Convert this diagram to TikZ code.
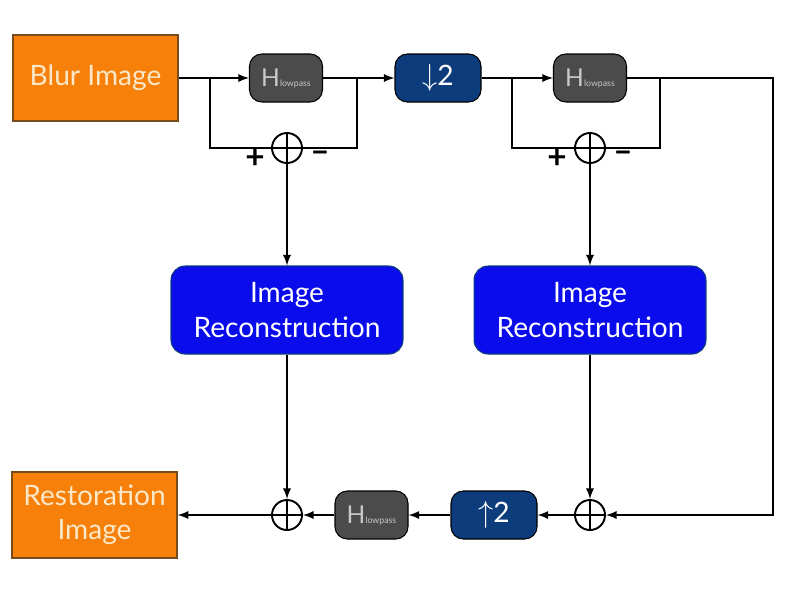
\documentclass[tikz,border=0pt]{standalone}
\usepackage{fontspec}
\setmainfont{Lato}
\usepackage{tikz}
\usetikzlibrary{arrows}
\tikzset{>=latex}
\definecolor{myorange}{RGB}{246, 128, 10}
\definecolor{myborder}{RGB}{120, 75, 30}
\definecolor{mygray}{RGB}{75, 75, 75}
\definecolor{mynavy}{RGB}{12, 60, 124}
\definecolor{myblue}{RGB}{10, 12, 235}
\definecolor{mycream}{RGB}{250, 232, 200}
\tikzset{
  imgbox/.style = {draw = myborder, fill = myorange, text = mycream, line width = 0.8pt,
    minimum width = 3.3cm, minimum height = 1.72cm, align = center, font = \fontsize{16}{19.5}\selectfont},
  filterbox/.style = {draw = black, fill = mygray, text = mygray!30, rounded corners = 7pt,
    minimum width = 1.46cm, minimum height = 0.96cm, line width = 0.6pt},
  ratebox/.style = {draw = black, fill = mynavy, text = white, rounded corners = 7pt,
    minimum width = 1.72cm, minimum height = 0.96cm, line width = 0.6pt, font = \fontsize{16}{19}\selectfont},
  recbox/.style = {draw = mynavy, fill = myblue, text = white, rounded corners = 8pt,
    minimum width = 4.64cm, minimum height = 1.76cm, align = center, line width = 0.6pt,
    font = \fontsize{16}{19.5}\selectfont},
  sumnode/.style = {circle, draw, line width = 1.1pt, minimum size = 0.6cm, inner sep = 0pt,
    path picture = {\draw[line width = 1.1pt] (path picture bounding box.north) -- (path picture bounding box.south)
      (path picture bounding box.west) -- (path picture bounding box.east);}},
  sign/.style = {font = \fontsize{19}{19}\selectfont\bfseries, inner sep = 0pt}
}
\newcommand{\hlow}{{\fontsize{14}{14}\selectfont H}{\fontsize{5}{5}\selectfont lowpass}}

\begin{document}
\begin{tikzpicture}[x = 0.02cm, y = -0.02cm, line width = 1.1pt]
\useasboundingbox (0,0) rectangle (800,600);
% top row
\node[imgbox] (blur) at (95.5,78) {Blur Image};
\node[filterbox] (h1) at (286,78) {\hlow};
\node[ratebox] (down) at (438,78) {$\downarrow$2};
\node[filterbox] (h2) at (590,78) {\hlow};
\coordinate (b1) at (210,78);
\coordinate (c1) at (357,78);
\coordinate (b2) at (512,78);
\coordinate (c2) at (660,78);
\coordinate (r1) at (773,78);
\coordinate (r2) at (773,515);
\node[sumnode] (s1) at (287,148) {};
\node[sumnode] (s2) at (590,148) {};
\node[sign] (p1) at (255,159) {+};
\node[sign] (m1) at (320,157) {--};
\node[sign] (p2) at (557,159) {+};
\node[sign] (m2) at (623,157) {--};
% middle row
\node[recbox] (ir1) at (287,310) {Image\\Reconstruction};
\node[recbox] (ir2) at (590,310) {Image\\Reconstruction};
% bottom row
\node[imgbox] (rest) at (94.5,515) {Restoration\\Image};
\node[sumnode] (s3) at (287,515) {};
\node[filterbox] (h3) at (371.5,515) {\hlow};
\node[ratebox] (up) at (494,515) {$\uparrow$2};
\node[sumnode] (s4) at (590,515) {};
% connectors
\draw[->] (blur) -- (h1);
\draw (b1) |- (s1);
\draw (c1) |- (s1);
\draw[->] (h1) -- (down);
\draw[->] (down) -- (h2);
\draw (b2) |- (s2);
\draw (c2) |- (s2);
\draw[->] (h2) -- (r1) -- (r2) -- (s4);
\draw[->] (s1) -- (ir1);
\draw[->] (s2) -- (ir2);
\draw[->] (ir1) -- (s3);
\draw[->] (ir2) -- (s4);
\draw[->] (s4) -- (up);
\draw[->] (up) -- (h3);
\draw[->] (h3) -- (s3);
\draw[->] (s3) -- (rest);
\end{tikzpicture}
\end{document}
